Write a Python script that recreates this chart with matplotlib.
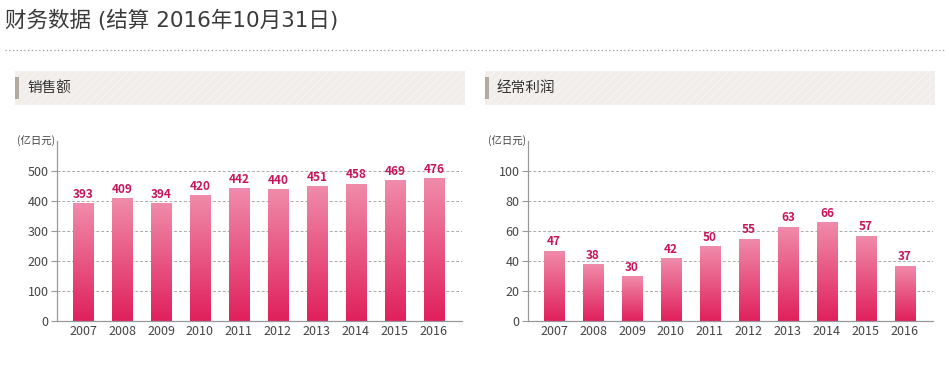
import matplotlib
matplotlib.use("Agg")
import matplotlib.pyplot as plt
from matplotlib.patches import Rectangle
from matplotlib.colors import LinearSegmentedColormap
import numpy as np

plt.rcParams['font.family'] = ['Noto Sans CJK SC', 'DejaVu Sans']

years = ['2007', '2008', '2009', '2010', '2011', '2012', '2013', '2014', '2015', '2016']
sales = [393, 409, 394, 420, 442, 440, 451, 458, 469, 476]
profit = [47, 38, 30, 42, 50, 55, 63, 66, 57, 37]

title = '财务数据 (结算 2016年10月31日)'
sales_title = '销售额'
profit_title = '经常利润'
unit = '(亿日元)'

W, H = 949, 365
fig = plt.figure(figsize=(W / 100, H / 100), dpi=100)
fig.patch.set_facecolor('white')

def px_axes(x0, y0, x1, y1, **kw):
    # pixel box (top-left origin) -> figure axes
    return fig.add_axes([x0 / W, 1 - y1 / H, (x1 - x0) / W, (y1 - y0) / H], **kw)

# title and dotted rule (Latin in DejaVu, which is wider, like the original)
fig.text(5 / W, 1 - 20 / H, title, fontsize=15.5, color='#3a3a3a', va='center', ha='left',
         family=['DejaVu Sans', 'Noto Sans CJK SC'])
fig.add_artist(plt.Line2D([5 / W, 945 / W], [1 - 50 / H, 1 - 50 / H],
                          color='#999999', linestyle=(0, (1, 2)), linewidth=0.9))

bar_cmap = LinearSegmentedColormap.from_list('pink', ['#e0205c', '#f08cab'])
grad = np.linspace(0, 1, 256).reshape(-1, 1)

def panel(hx0, hx1, ax_box, values, ymax, step, label):
    # header band
    hax = px_axes(hx0, 71, hx1, 105)
    hax.set_xlim(0, 1)
    hax.set_ylim(0, 1)
    hax.axis('off')
    hax.add_patch(Rectangle((0, 0), 1, 1, facecolor='#f0edea', edgecolor='#f6f4f2',
                            hatch='////', linewidth=0))
    hax.add_patch(Rectangle((0, 0.18), 4 / (hx1 - hx0), 0.64, facecolor='#b3aaa1', linewidth=0))
    hax.text(12 / (hx1 - hx0), 0.5, label, fontsize=10.5, color='#333333', va='center', ha='left')

    ax = px_axes(*ax_box)
    x = np.arange(len(years))
    bars = ax.bar(x, values, width=0.513, color='#e8557f', zorder=2)
    for b in bars:
        bx, by = b.get_x(), b.get_y()
        im = ax.imshow(grad, cmap=bar_cmap, aspect='auto', origin='lower',
                       extent=[bx, bx + b.get_width(), by, by + b.get_height()], zorder=2)
        im.set_clip_path(b)
    for xi, v in zip(x, values):
        ax.text(xi, v + ymax * 0.012, str(v), ha='center', va='bottom', fontsize=8.5,
                color='#c8145a', fontweight='bold', zorder=3)
    ax.set_xlim(-0.667, 9.72)
    ax.set_ylim(0, ymax)
    ax.set_xticks(x)
    ax.set_xticklabels(years)
    ax.set_yticks(np.arange(0, ymax, step))
    ax.yaxis.grid(True, color='#aaaaaa', linestyle=(0, (3, 2)), linewidth=0.7, zorder=0)
    ax.set_axisbelow(True)
    for s in ['top', 'right']:
        ax.spines[s].set_visible(False)
    for s in ['left', 'bottom']:
        ax.spines[s].set_color('#999999')
        ax.spines[s].set_linewidth(0.9)
    ax.tick_params(axis='y', length=4, color='#999999', labelsize=9, labelcolor='#444444', pad=2)
    ax.tick_params(axis='x', length=0, labelsize=9, labelcolor='#444444', pad=3)
    ax.text(-0.005, 1.0, unit, transform=ax.transAxes, ha='right', va='center',
            fontsize=7.5, color='#444444')
    return ax

panel(15, 465, (57, 141, 462, 321), sales, 600, 100, sales_title)
panel(485, 935, (528, 141, 933, 321), profit, 120, 20, profit_title)

fig.savefig('out.png', dpi=100, facecolor='white')
